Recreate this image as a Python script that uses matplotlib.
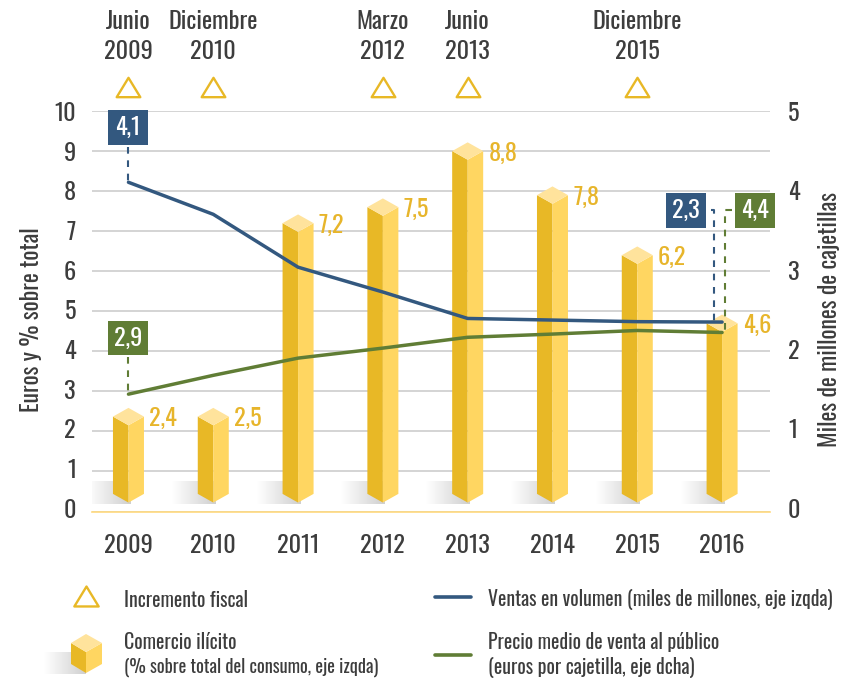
import numpy as np
import matplotlib
matplotlib.use("Agg")
import matplotlib.pyplot as plt
from matplotlib.path import Path
from matplotlib.transforms import ScaledTranslation

W, H = 841, 681
FONT = ["Oswald", "Pathway Gothic One", "Antonio", "Roboto", "DejaVu Sans"]
plt.rcParams["font.family"] = FONT

years = ["2009", "2010", "2011", "2012", "2013", "2014", "2015", "2016"]
illicit_labels = ["2,4", "2,5", "7,2", "7,5", "8,8", "7,8", "6,2", "4,6"]
illicit_heights = [2.37, 2.37, 7.2, 7.6, 9.0, 7.9, 6.4, 4.7]
volume_right = [4.11, 3.71, 3.05, 2.74, 2.41, 2.39, 2.37, 2.365]
price_left = [2.93, 3.4, 3.83, 4.08, 4.35, 4.43, 4.52, 4.47]
tax_idx = [0, 1, 3, 4, 6]
tax_labels = ["Junio\n2009", "Diciembre\n2010", "Marzo\n2012", "Junio\n2013", "Diciembre\n2015"]
left_ticks = list(range(0, 11))
right_ticks = list(range(0, 6))

BLUE, GREEN = "#33587F", "#607D35"
Y1, Y2, Y3 = "#E8B826", "#FFD661", "#FFE39C"
LABEL_Y, GRID, DARK = "#E7B52B", "#C9C9C9", "#3D3D3D"
FS = 17.5

fig = plt.figure(figsize=(W / 100, H / 100), dpi=100, facecolor="white")
L, R, T, B = 92, 770, 111, 511.5
ax = fig.add_axes([L / W, 1 - B / H, (R - L) / W, (B - T) / H])
ax.set_xlim(-0.43, 7.565)
ax.set_ylim(0, 10)
ax.set_yticks(left_ticks)
ax.set_xticks(range(8), years)
ax.grid(axis="y", color=GRID, lw=1.1, zorder=0)
ax.set_axisbelow(True)
for s in ax.spines.values():
    s.set_visible(False)
ax.spines["bottom"].set_visible(True)
ax.spines["bottom"].set_color("#FFD97E")
ax.spines["bottom"].set_linewidth(1.2)
ax.tick_params(length=0, labelsize=FS, labelcolor=DARK)
ax.tick_params(axis="y", pad=11.5)
ax.tick_params(axis="x", pad=16)
ax.set_ylabel("Euros y % sobre total", fontsize=17, color=DARK, va="center")
ax.yaxis.set_label_coords((32 - L) / (R - L), 0.48)

ax2 = ax.twinx()
ax2.set_ylim(0, 5)
ax2.set_yticks(right_ticks)
for s in ax2.spines.values():
    s.set_visible(False)
ax2.tick_params(length=0, labelsize=FS, labelcolor=DARK, pad=13)
ax2.set_ylabel("Miles de millones de cajetillas", fontsize=17, color=DARK, va="center")
ax2.yaxis.set_label_coords((830 - L) / (R - L), 0.48)

# the reference's tick labels sit slightly off their gridlines, more so near zero
for a, ticks, k in ((ax, left_ticks, 1), (ax2, right_ticks, 2)):
    for v, lab in zip(ticks, a.get_yticklabels()):
        shift = (3.5 - 0.4 * v * k) * 72 / 100
        lab.set_transform(lab.get_transform() + ScaledTranslation(0, shift / 72, fig.dpi_scale_trans))

ov = fig.add_axes([0, 0, 1, 1], facecolor="none")
ov.set_xlim(0, W)
ov.set_ylim(H, 0)
ov.axis("off")

grad = np.linspace(0, 1, 64).reshape(1, -1)
shadow_cmap = matplotlib.colors.LinearSegmentedColormap.from_list("s", ["#FFFFFF", "#CFCFCF"])


def cube(a, cx, top_c, bot_c, dx, dy, z=3):
    a.fill([cx - dx, cx, cx, cx - dx], [top_c, top_c - dy, bot_c - dy, bot_c], color=Y1, lw=0, zorder=z)
    a.fill([cx, cx + dx, cx + dx, cx], [top_c - dy, top_c, bot_c, bot_c - dy], color=Y2, lw=0, zorder=z)
    a.fill([cx - dx, cx, cx + dx, cx], [top_c, top_c + dy, top_c, top_c - dy], color=Y3, lw=0, zorder=z)


DX, DY, BASE = 15.5 / 84.8, 8.7 / 40, 0.44
ax.set_autoscale_on(False)
ov.set_autoscale_on(False)
for i, (h, lab) in enumerate(zip(illicit_heights, illicit_labels)):
    ax.imshow(grad, extent=(i - 0.49, i + 0.02, 0.19, 0.74), aspect="auto", cmap=shadow_cmap,
              vmin=0, vmax=1, zorder=1.5)
    cube(ax, i, h, BASE, DX, DY)
    ax.text(i + 0.245, h - 0.05, lab, fontsize=FS, color=LABEL_Y, va="center", ha="left", zorder=4)
ax.set_xlim(-0.43, 7.565)
ax.set_ylim(0, 10)

ax2.plot(range(8), volume_right, color=BLUE, lw=2.5, solid_capstyle="round", zorder=5)
ax.plot(range(8), price_left, color=GREEN, lw=2.5, solid_capstyle="round", zorder=5)
ax2.set_zorder(ax.get_zorder() + 1)
ax2.patch.set_visible(False)

tri = Path([(-1, -0.82), (1, -0.82), (0, 0.82), (-1, -0.82)], closed=True)
ax.plot(tax_idx, [10.59] * len(tax_idx), ls="none", marker=tri, ms=17, mfc="none", mec=Y1, mew=1.7, clip_on=False)
for i, t in zip(tax_idx, tax_labels):
    ax.text(i, 11.86, t, fontsize=FS, color=DARK, ha="center", va="center", linespacing=1.42, clip_on=False)


def box(x0, x1, y0, y1, c, s):
    ov.fill([x0, x1, x1, x0], [y0, y0, y1, y1], color=c, lw=0, zorder=6)
    ov.text((x0 + x1) / 2, (y0 + y1) / 2, s, color="white", fontsize=FS, ha="center", va="center", zorder=7)


def dash(xs, ys, c):
    ov.plot(xs, ys, color=c, lw=1.5, ls=(0, (3.2, 3.2)), zorder=6)


box(108, 148, 110, 145, BLUE, "4,1")
box(108, 148, 321, 355, GREEN, "2,9")
box(666, 706, 193, 228, BLUE, "2,3")
box(735, 775, 193, 228, GREEN, "4,4")
dash([128.5, 128.5], [147, 181], BLUE)
dash([128.5, 128.5], [357, 393], GREEN)
dash([711, 714, 714], [210, 210, 321], BLUE)
dash([732, 725, 725], [210, 210, 331], GREEN)

ov.plot([86], [596], ls="none", marker=tri, ms=17.5, mfc="none", mec=Y1, mew=1.7)
ov.imshow(grad, extent=(44, 86, 674, 652), aspect="auto", cmap=shadow_cmap, vmin=0, vmax=1, zorder=1)
ov.set_xlim(0, W)
ov.set_ylim(H, 0)
ov.fill([71, 86, 86, 71], [643, 652, 673, 664], color=Y1, lw=0, zorder=3)
ov.fill([86, 102, 102, 86], [652, 643, 664, 673], color=Y2, lw=0, zorder=3)
ov.fill([71, 86, 102, 86], [643, 634, 643, 652], color=Y3, lw=0, zorder=3)
ov.plot([435, 471], [597, 597], color=BLUE, lw=2.6, solid_capstyle="round")
ov.plot([435, 471], [655, 655], color=GREEN, lw=2.6, solid_capstyle="round")
for x, y, s, fs in [
    (124, 600, "Incremento fiscal", 14.2),
    (124, 642, "Comercio ilícito", 14.2),
    (124, 667, "(% sobre total del consumo, eje izqda)", 13.2),
    (488, 600, "Ventas en volumen (miles de millones, eje izqda)", 14.2),
    (488, 642, "Precio medio de venta al público", 14.2),
    (488, 667, "(euros por cajetilla, eje dcha)", 14.2),
]:
    ov.text(x, y, s, fontsize=fs, color=DARK, ha="left", va="center")

fig.savefig("out.png", dpi=100, facecolor="white")
